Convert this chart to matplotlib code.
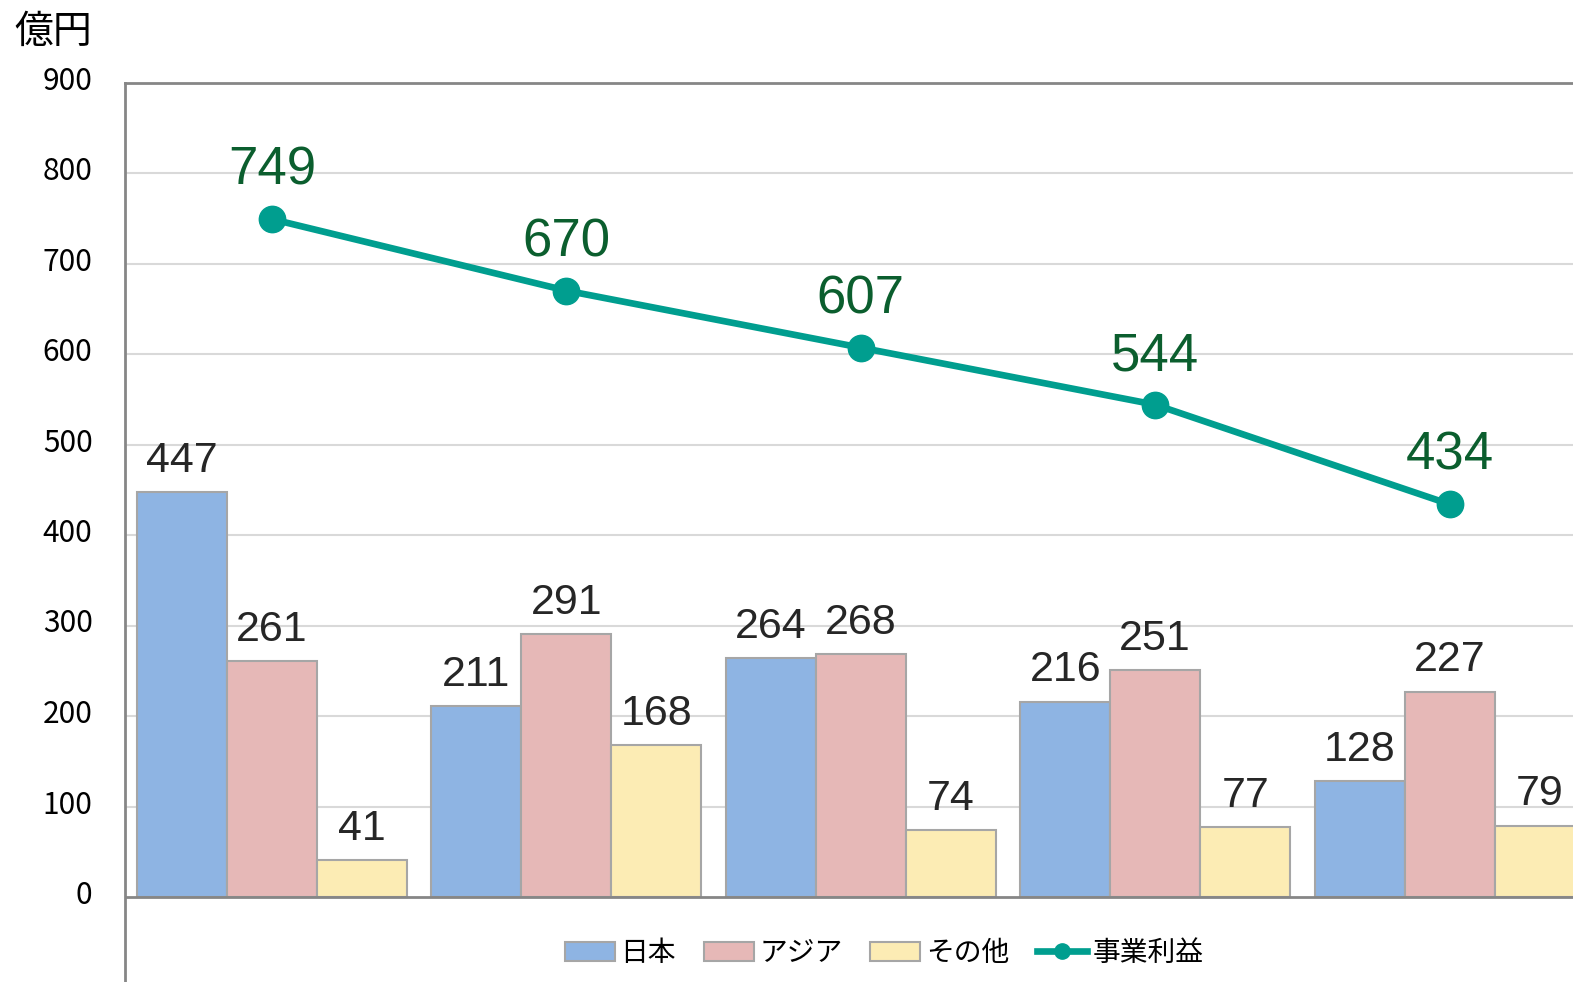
import matplotlib
matplotlib.use("Agg")
import matplotlib.pyplot as plt
import matplotlib.transforms as mtransforms
from matplotlib.lines import Line2D
from matplotlib.patches import Patch
import numpy as np

plt.rcParams['font.family'] = ['Noto Sans CJK JP', 'DejaVu Sans']

# -----------------------------
# Data
# -----------------------------
years = [0, 1, 2, 3, 4]
japan = [447, 211, 264, 216, 128]
asia = [261, 291, 268, 251, 227]
other = [41, 168, 74, 77, 79]
profit = [749, 670, 607, 544, 434]
series_names = ["日本", "アジア", "その他", "事業利益"]
yticks = [0, 100, 200, 300, 400, 500, 600, 700, 800, 900]

# -----------------------------
# Style
# -----------------------------
c_japan = "#8EB4E3"
c_asia = "#E6B8B7"
c_other = "#FCECB4"
c_edge = "#A6A6A6"
c_line = "#009E8F"
c_linelbl = "#0B5E2E"
c_lbl = "#262626"
c_axis = "#868686"

W, H = 1573, 982
fig = plt.figure(figsize=(W / 100, H / 100), dpi=100)

left_px, top_px, zero_px = 124.5, 82.5, 897
ax = fig.add_axes([left_px / W, 0, 1 - left_px / W, 1 - top_px / H])

px_per_unit = (zero_px - top_px) / 900
ax.set_ylim(-(H - zero_px) / px_per_unit, 900)
spacing = 294.4
first = 272
ax.set_xlim((left_px - first) / spacing, (W - first) / spacing)

x = np.array(years)
bw = 90 / spacing
groups = [(japan, c_japan, -bw), (asia, c_asia, 0), (other, c_other, bw)]
for vals, col, off in groups:
    bars = ax.bar(x + off, vals, width=bw, color=col, edgecolor=c_edge,
                  linewidth=1.5, zorder=3)
    for b, v in zip(bars, vals):
        ax.annotate(str(v), (b.get_x() + b.get_width() / 2, v),
                    xytext=(0, 8), textcoords="offset points",
                    ha="center", va="bottom", fontsize=31,
                    family="Liberation Sans", color=c_lbl, zorder=5)

ax.plot(x, profit, color=c_line, linewidth=4.8, marker="o",
        markersize=19, zorder=4)
for xi, v in zip(x, profit):
    ax.annotate(str(v), (xi, v), xytext=(0, 17), textcoords="offset points",
                ha="center", va="bottom", fontsize=38,
                family="Liberation Sans", color=c_linelbl, zorder=5)

# axes styling
for s in ["right", "bottom"]:
    ax.spines[s].set_visible(False)
for s in ["left", "top"]:
    ax.spines[s].set_color(c_axis)
    ax.spines[s].set_linewidth(2)
ax.axhline(0, color=c_axis, linewidth=2, zorder=4)
for t in yticks[1:-1]:
    ax.axhline(t, color="#D9D9D9", linewidth=1.5, zorder=1)

ax.set_xticks([])
ax.set_yticks(yticks)
ax.tick_params(axis="y", length=0, pad=23, labelsize=21.5)
# nudge tick labels up a little, like the original
shift = mtransforms.ScaledTranslation(0, 5 / 100, fig.dpi_scale_trans)
for lbl in ax.get_yticklabels():
    lbl.set_transform(lbl.get_transform() + shift)

fig.text(14 / W, 1 - 32 / H, "億円", fontsize=28, ha="left", va="center")

handles = [Patch(facecolor=c_japan, edgecolor=c_edge, linewidth=1.5),
           Patch(facecolor=c_asia, edgecolor=c_edge, linewidth=1.5),
           Patch(facecolor=c_other, edgecolor=c_edge, linewidth=1.5),
           Line2D([0], [0], color=c_line, linewidth=4.8, marker="o",
                  markersize=11)]
fig.legend(handles, series_names, loc="center",
           bbox_to_anchor=(884 / W, 1 - 953 / H), ncol=4, frameon=False,
           fontsize=20, handlelength=1.8, handleheight=0.65,
           handletextpad=0.2, columnspacing=1.0)

fig.savefig("out.png", dpi=100)
